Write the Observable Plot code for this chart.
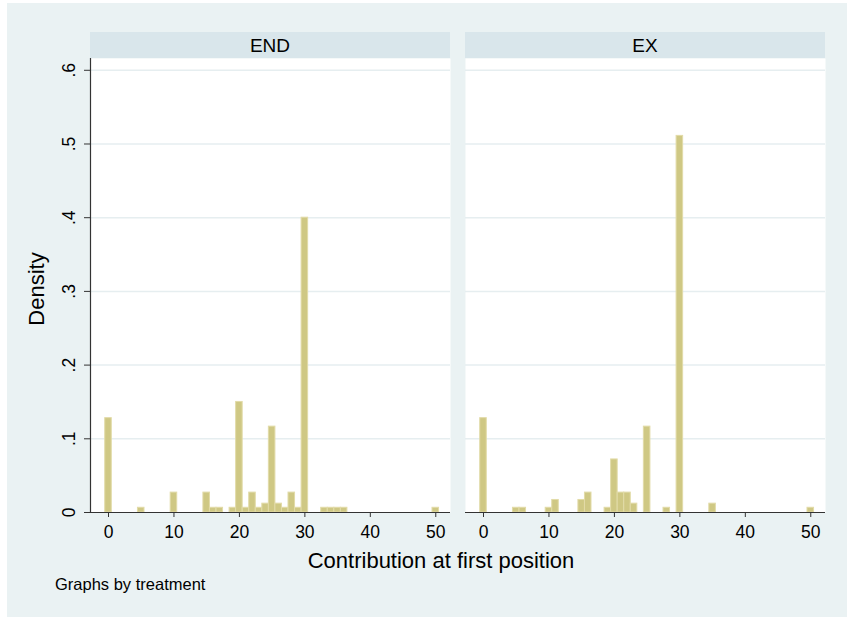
<!DOCTYPE html>
<html><head><meta charset="utf-8">
<script src="https://cdn.jsdelivr.net/npm/d3@7"></script>
<script src="https://cdn.jsdelivr.net/npm/@observablehq/plot@0.6"></script>
<style>
body{margin:0;background:#fff;font-family:"Liberation Sans",Arial,sans-serif;}
#fig{position:relative;width:847px;height:617px;overflow:hidden;background:#fff;}
#bg{position:absolute;left:7px;top:3px;right:0;bottom:0;background:#eaf2f3;}
.strip{position:absolute;top:32px;height:26px;width:360px;background:#d9e6eb;font-size:19px;line-height:27px;text-align:center;color:#000;}
#chart{position:absolute;left:0;top:0;}
#ylab{position:absolute;left:37px;top:289px;transform:translate(-50%,-50%) rotate(-90deg);font-size:22px;white-space:nowrap;color:#000;}
#xlab{position:absolute;left:441px;top:561px;transform:translate(-50%,-50%);font-size:22px;white-space:nowrap;color:#000;}
#note{position:absolute;left:55px;top:575px;font-size:16.5px;color:#000;}
</style></head>
<body>
<div id="fig">
  <div id="bg"></div>
  <div id="chart"></div>
  <div class="strip" id="s0" style="left:90px"></div>
  <div class="strip" id="s1" style="left:465px"></div>
  <div id="ylab">Density</div>
  <div id="xlab">Contribution at first position</div>
  <div id="note">Graphs by treatment</div>
</div>
<script>
const panels = ["END", "EX"];
const endValues  = [0, 5, 10, 15, 16, 17, 19, 20, 21, 22, 23, 24, 25, 26, 27, 28, 29, 30, 33, 34, 35, 36, 50];
const endDensity = [0.128, 0.0064, 0.027, 0.027, 0.0064, 0.0064, 0.0064, 0.150, 0.0064, 0.027, 0.0064, 0.012, 0.1165, 0.012, 0.0064, 0.027, 0.0064, 0.400, 0.0064, 0.0064, 0.0064, 0.0064, 0.0064];
const exValues   = [0, 5, 6, 10, 11, 15, 16, 19, 20, 21, 22, 23, 25, 28, 30, 35, 50];
const exDensity  = [0.128, 0.0064, 0.0064, 0.0064, 0.017, 0.017, 0.027, 0.0064, 0.072, 0.027, 0.027, 0.012, 0.1165, 0.0064, 0.511, 0.012, 0.0064];
const yTicks = [0, 0.1, 0.2, 0.3, 0.4, 0.5, 0.6];
const xTicks = [0, 10, 20, 30, 40, 50];

document.getElementById("s0").textContent = panels[0];
document.getElementById("s1").textContent = panels[1];

const rows = [
  ...endValues.map((v, i) => ({treatment: panels[0], value: v, density: endDensity[i]})),
  ...exValues.map((v, i) => ({treatment: panels[1], value: v, density: exDensity[i]}))
];
const fmtY = d => d === 0 ? "0" : d3.format(".1f")(d).replace(/^0/, "");

const chart = Plot.plot({
  width: 847, height: 575,
  marginLeft: 90, marginRight: 22, marginTop: 58, marginBottom: 63,
  style: {background: "transparent", fontFamily: "'Liberation Sans', Arial, sans-serif", fontSize: "17.5px", color: "#000"},
  fx: {domain: panels, paddingInner: 0.04, paddingOuter: 0, axis: null},
  x: {domain: [-2.75, 52.25]},
  y: {domain: [0, 0.616]},
  marks: [
    Plot.frame({fill: "#fff", stroke: null}),
    Plot.gridY(yTicks.slice(1), {stroke: "#e6eef0", strokeOpacity: 1, strokeWidth: 1.5}),
    Plot.rect(rows, {fx: "treatment", x1: d => d.value - 0.5, x2: d => d.value + 0.5, y1: 0, y2: "density", fill: "#cfc884", stroke: "#e2dba8", strokeWidth: 1}),
    Plot.ruleY([0], {stroke: "#333", strokeWidth: 1.2}),
    Plot.frame({anchor: "left", stroke: "#333", strokeWidth: 1.2, facetAnchor: "left"}),
    Plot.axisY({ticks: yTicks, tickFormat: fmtY, tickRotate: -90, tickSize: 6, tickPadding: 10, label: null, stroke: "#333"}),
    Plot.axisX({ticks: xTicks, tickSize: 5, tickPadding: 8, label: null, stroke: "#333"})
  ]
});
document.getElementById("chart").appendChild(chart);
</script>
</body></html>
